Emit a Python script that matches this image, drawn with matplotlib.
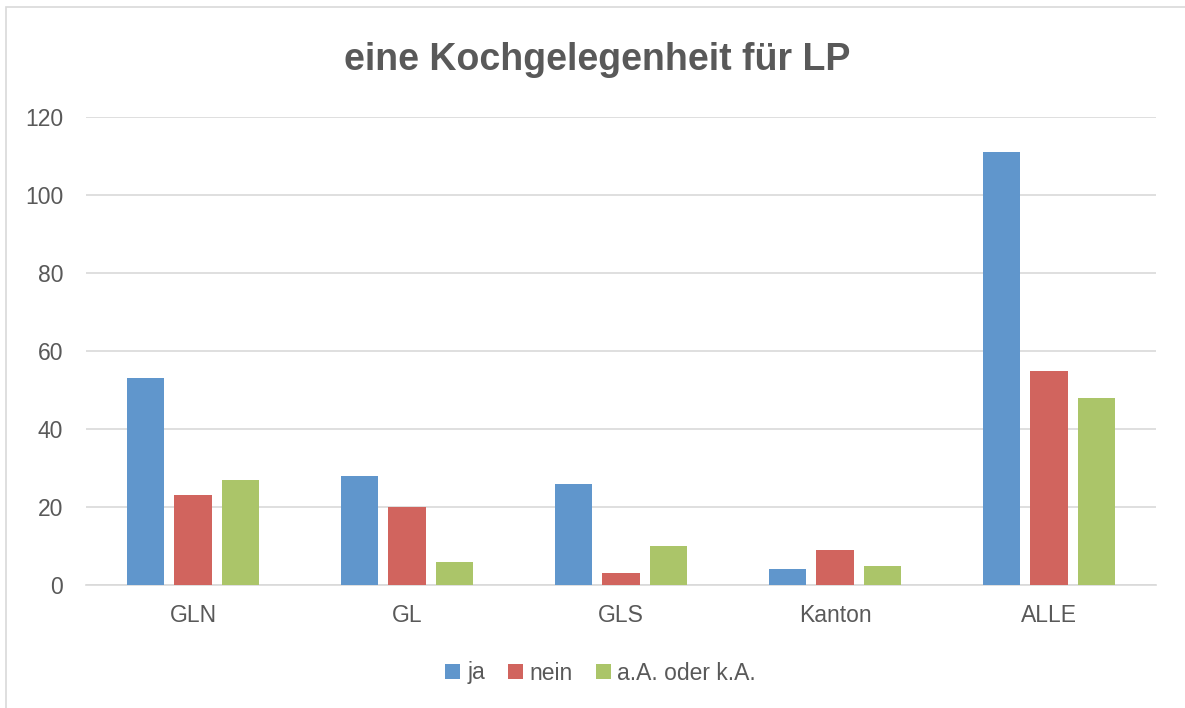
#!/usr/bin/env python3
"""Grouped bar chart: eine Kochgelegenheit für LP."""

import matplotlib

matplotlib.use("Agg")
import matplotlib.pyplot as plt
import numpy as np
from matplotlib.patches import Rectangle

categories = ["GLN", "GL", "GLS", "Kanton", "ALLE"]
ja = [53, 28, 26, 4, 111]
nein = [23, 20, 3, 9, 55]
keine_angabe = [27, 6, 10, 5, 48]
series_labels = ["ja", "nein", "a.A. oder k.A."]
colors = ["#6096CC", "#D1645E", "#ABC569"]

plt.rcParams["font.family"] = ["Liberation Sans", "DejaVu Sans"]
text_color = "#595959"

fig = plt.figure(figsize=(11.85, 7.08), dpi=100)
fig.patches.append(
    Rectangle((6 / 1185, -0.01), 1.02, 1 - 7 / 708 + 0.01, transform=fig.transFigure,
              fill=False, edgecolor="#D9D9D9", linewidth=1.2)
)
ax = fig.add_axes([86 / 1185, 1 - 585 / 708, (1156 - 86) / 1185, (585 - 117) / 708])

x = np.arange(len(categories))
width = 0.173
step = 0.22
for i, (vals, label, color) in enumerate(zip([ja, nein, keine_angabe], series_labels, colors)):
    ax.bar(x + (i - 1) * step, vals, width=width, color=color, label=label, zorder=3)

ax.set_xlim(-0.5, len(categories) - 0.5)
ax.set_ylim(0, 120)
ax.set_yticks(range(0, 121, 20))
ax.set_xticks(x)
ax.set_xticklabels(categories)
ax.tick_params(axis="both", length=0, labelsize=16.5, colors=text_color)
ax.tick_params(axis="x", pad=14)
ax.tick_params(axis="y", pad=16.5)
ax.grid(True, axis="y", color="#D9D9D9", linewidth=1.2, zorder=0)
for side in ["top", "right", "left"]:
    ax.spines[side].set_visible(False)
ax.spines["bottom"].set_color("#D9D9D9")
ax.spines["bottom"].set_linewidth(1.2)

fig.text(0.504, 1 - 60 / 708, "eine Kochgelegenheit für LP", ha="center", va="center",
         fontsize=27, fontweight="bold", color=text_color)

leg = fig.legend(loc="center", bbox_to_anchor=(0.507, 1 - 673 / 708), ncol=3, frameon=False,
                 fontsize=16.5, handlelength=0.65, handleheight=0.65, handletextpad=0.3,
                 columnspacing=1.0, labelcolor=text_color)

fig.savefig("out.png", dpi=100)
